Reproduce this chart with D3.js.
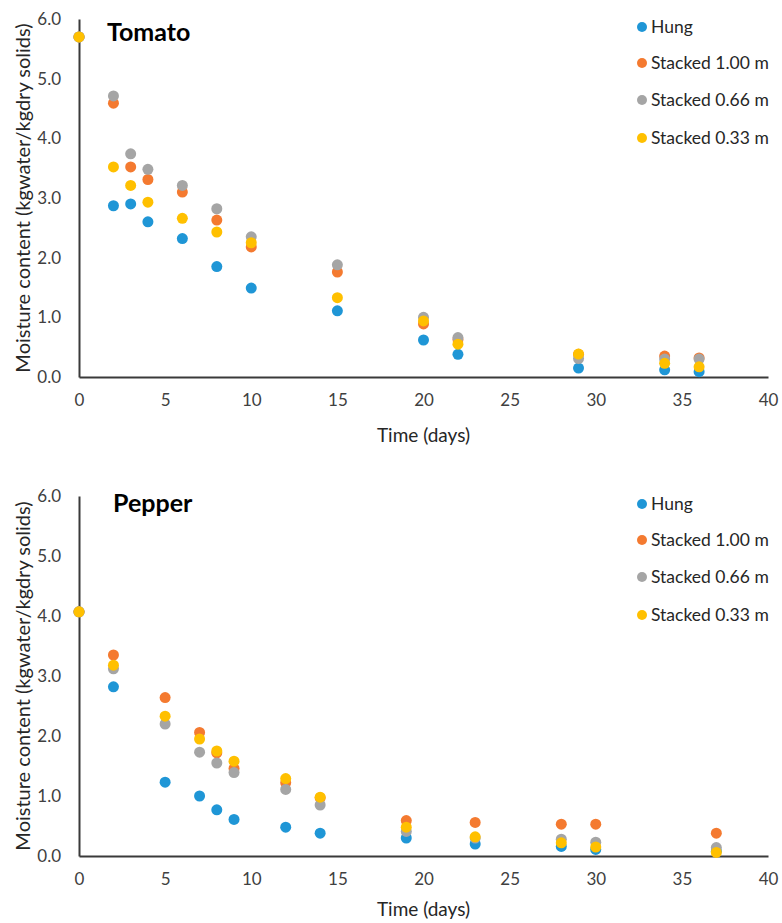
<!DOCTYPE html>
<html>
<head>
<meta charset="utf-8">
<script src="https://cdn.jsdelivr.net/npm/d3@7"></script>
<style>
  html, body { margin: 0; padding: 0; background: #fff; }
  svg text { font-family: Lato, "Open Sans", sans-serif; }
</style>
</head>
<body>
<svg id="chart" width="782" height="923"></svg>
<script>
// ---------------- Data ----------------
const seriesNames = ["Hung", "Stacked 1.00 m", "Stacked 0.66 m", "Stacked 0.33 m"];
const seriesColors = ["#1f96d6", "#f47a30", "#a5a5a5", "#ffc000"];

const xTicks = [0, 5, 10, 15, 20, 25, 30, 35, 40];
const yTicks = [0, 1, 2, 3, 4, 5, 6];

// Tomato
const tomatoDays = [0, 2, 3, 4, 6, 8, 10, 15, 20, 22, 29, 34, 36];
const tomatoHung     = [5.70, 2.87, 2.90, 2.60, 2.32, 1.85, 1.49, 1.11, 0.62, 0.38, 0.15, 0.12, 0.09];
const tomatoStacked100 = [5.70, 4.59, 3.52, 3.31, 3.10, 2.63, 2.18, 1.76, 0.89, 0.63, 0.38, 0.35, 0.32];
const tomatoStacked066 = [5.70, 4.71, 3.74, 3.48, 3.21, 2.82, 2.35, 1.88, 1.00, 0.66, 0.31, 0.30, 0.30];
const tomatoStacked033 = [5.70, 3.52, 3.21, 2.93, 2.66, 2.43, 2.25, 1.33, 0.94, 0.55, 0.385, 0.23, 0.17];

// Pepper
const pepperDays = [0, 2, 5, 7, 8, 9, 12, 14, 19, 23, 28, 30, 37];
const pepperHung       = [4.07, 2.82, 1.23, 1.00, 0.77, 0.61, 0.48, 0.38, 0.30, 0.20, 0.16, 0.11, 0.08];
const pepperStacked100 = [4.07, 3.35, 2.64, 2.06, 1.72, 1.46, 1.22, 0.97, 0.59, 0.56, 0.53, 0.53, 0.38];
const pepperStacked066 = [4.07, 3.12, 2.20, 1.73, 1.55, 1.39, 1.11, 0.85, 0.41, 0.30, 0.28, 0.23, 0.14];
const pepperStacked033 = [4.07, 3.18, 2.33, 1.95, 1.75, 1.58, 1.29, 0.98, 0.48, 0.32, 0.22, 0.15, 0.06];

const yTitle = "Moisture content  (kgwater/kgdry solids)";
const xTitle = "Time (days)";

const panels = [
  { title: "Tomato", days: tomatoDays,
    series: [tomatoHung, tomatoStacked100, tomatoStacked066, tomatoStacked033],
    top: 19, bottom: 377, titleX: 107, titleY: 41, xTitleY: 434 },
  { title: "Pepper", days: pepperDays,
    series: [pepperHung, pepperStacked100, pepperStacked066, pepperStacked033],
    top: 496, bottom: 856, titleX: 113, titleY: 512, xTitleY: 908 }
];

// ---------------- Drawing ----------------
const svg = d3.select("#chart");
const left = 79, right = 768;
const axisColor = "#3a3a3a";
const textColor = "#404040";

panels.forEach(p => {
  const x = d3.scaleLinear().domain([0, 40]).range([left, right]);
  const y = d3.scaleLinear().domain([0, 6]).range([p.bottom, p.top]);
  const g = svg.append("g");

  // y axis
  const yAxis = g.append("g")
    .attr("transform", `translate(${left},0)`)
    .call(d3.axisLeft(y).tickValues(yTicks).tickSize(0).tickPadding(18).tickFormat(d3.format(".1f")));
  yAxis.select(".domain").attr("stroke", axisColor).attr("stroke-width", 2);
  yAxis.selectAll("text").attr("font-size", 17).attr("fill", textColor)
    .attr("font-family", "Lato, 'Open Sans', sans-serif");

  // x axis
  const xAxis = g.append("g")
    .attr("transform", `translate(0,${p.bottom})`)
    .call(d3.axisBottom(x).tickValues(xTicks).tickSize(0).tickPadding(17).tickFormat(d3.format("d")));
  xAxis.select(".domain").attr("stroke", axisColor).attr("stroke-width", 2);
  xAxis.selectAll("text").attr("font-size", 17).attr("fill", textColor)
    .attr("font-family", "Lato, 'Open Sans', sans-serif");

  // axis titles
  g.append("text")
    .attr("transform", `translate(22,${(p.top + p.bottom) / 2}) rotate(-90)`)
    .attr("text-anchor", "middle")
    .attr("dominant-baseline", "central")
    .attr("font-size", 20)
    .attr("fill", "#262626")
    .text(yTitle);

  g.append("text")
    .attr("x", (left + right) / 2)
    .attr("y", p.xTitleY)
    .attr("text-anchor", "middle")
    .attr("dominant-baseline", "central")
    .attr("font-size", 19)
    .attr("fill", "#262626")
    .text(xTitle);

  // panel title
  g.append("text")
    .attr("x", p.titleX)
    .attr("y", p.titleY)
    .attr("font-size", 25)
    .attr("font-weight", "bold")
    .attr("fill", "#000")
    .text(p.title);

  // points
  p.series.forEach((vals, si) => {
    g.append("g").selectAll("circle")
      .data(vals.map((v, i) => ({ d: p.days[i], v })))
      .join("circle")
      .attr("cx", d => x(d.d))
      .attr("cy", d => y(d.v))
      .attr("r", 5.5)
      .attr("fill", seriesColors[si]);
  });

  // legend
  const legendOffsets = [7, 43, 80, 118];
  const lg = g.append("g");
  seriesNames.forEach((name, si) => {
    const ly = p.top + legendOffsets[si];
    lg.append("circle").attr("cx", 642).attr("cy", ly + 1).attr("r", 5).attr("fill", seriesColors[si]);
    lg.append("text").attr("x", 651).attr("y", ly)
      .attr("dominant-baseline", "central")
      .attr("font-size", 17.5)
      .attr("fill", "#262626")
      .text(name);
  });
});
</script>
</body>
</html>
